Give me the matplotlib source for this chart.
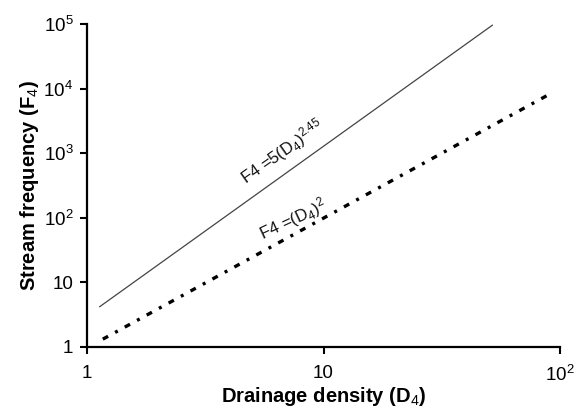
import matplotlib
matplotlib.use("Agg")
import matplotlib.pyplot as plt

plt.rcParams['font.family'] = ['Liberation Sans', 'DejaVu Sans']
plt.rcParams['mathtext.fontset'] = 'custom'
plt.rcParams['mathtext.rm'] = 'Liberation Sans'
plt.rcParams['mathtext.it'] = 'Liberation Sans'
plt.rcParams['mathtext.bf'] = 'Liberation Sans:bold'

# values (log-log), ends of each line
d_solid = [1.13, 51.8]
f_solid = [4.2, 96000]

d_dot = [1.165, 92.8]
f_dot = [1.32, 8650]

xticks = [1, 10, 100]
xtick_labels = ['1', '10', '$10^2$']
yticks = [1, 10, 100, 1000, 10000, 100000]
ytick_labels = ['1', '10', '$10^2$', '$10^3$', '$10^4$', '$10^5$']

fig = plt.figure(figsize=(5.85, 4.15), dpi=100)
ax = fig.add_axes([0.149, 0.164, 0.808, 0.778])

ax.plot(d_solid, f_solid, color='#444444', lw=0.9)
ax.plot(d_dot, f_dot, color='black', lw=2.4, linestyle=(0, (1.8, 2.4, 0.9, 2.4)))

ax.set_xscale('log')
ax.set_yscale('log')
ax.set_xlim(1, 100)
ax.set_ylim(1, 1e5)

ax.set_xticks(xticks)
ax.set_xticklabels(xtick_labels)
ax.set_yticks(yticks)
ax.set_yticklabels(ytick_labels)
ax.minorticks_off()
ax.tick_params(labelsize=13.5, width=1.5, length=5, direction='out', pad=5)
ax.tick_params(axis='x', pad=8)

for s in ['top', 'right']:
    ax.spines[s].set_visible(False)
for s in ['left', 'bottom']:
    ax.spines[s].set_linewidth(1.6)

ax.set_xlabel('Drainage density (D$_4$)', fontsize=14.5, fontweight='bold', labelpad=0)
ax.set_ylabel('Stream frequency (F$_4$)', fontsize=14.5, fontweight='bold', labelpad=2)

ax.text(4.7, 333, 'F4 =5(D$_4$)$^{2.45}$', fontsize=12, rotation=35,
        rotation_mode='anchor', ha='left', va='baseline', color='#111111')
ax.text(5.55, 45, 'F4 =(D$_4$)$^2$', fontsize=12, rotation=25,
        rotation_mode='anchor', ha='left', va='baseline', color='#111111')

fig.savefig('out.png', dpi=100)
